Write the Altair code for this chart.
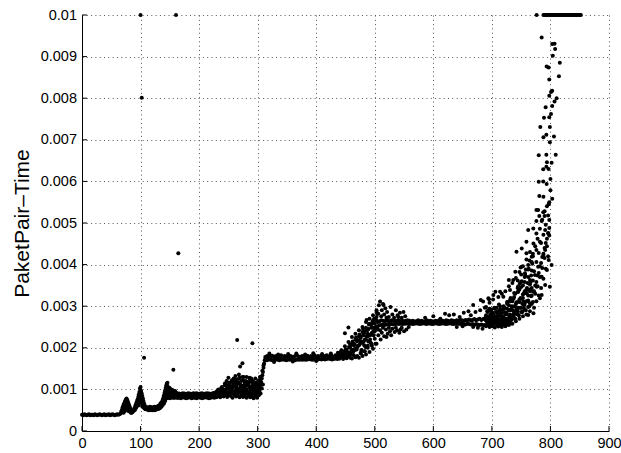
import altair as alt
import pandas as pd

# ---------------- axis ticks ----------------
X_TICKS = [0, 100, 200, 300, 400, 500, 600, 700, 800, 900]
Y_TICKS = [0, 0.001, 0.002, 0.003, 0.004, 0.005, 0.006, 0.007, 0.008, 0.009, 0.01]

# ---------------- data (y values in milliseconds) ----------------
A_X = [0,2,4,6,8,10,12,14,16,18,20,22,24,26,28,30,32,34,36,38,40,42,44,46,48,50,52,54,56,58,60,62,64]
A_Y = [0.39,0.38,0.40,0.39,0.38,0.39,0.40,0.38,0.39,0.39,0.38,0.40,0.39,0.38,0.39,0.40,0.39,0.38,0.39,0.40,0.38,0.39,0.39,0.40,0.38,0.39,0.40,0.39,0.38,0.39,0.40,0.39,0.40]

HUMP1 = [(66,0.42),(67,0.46),(68,0.50),(69,0.55),(70,0.59),(71,0.63),(72,0.66),(73,0.70),(74,0.73),(75,0.76),(76,0.78),(77,0.75),(78,0.72),(79,0.68),(80,0.64),(81,0.60),(82,0.56),(83,0.52),(84,0.48),(85,0.46),(86,0.45),(87,0.47),(88,0.50),
         (70,0.45),(72,0.50),(73,0.55),(74,0.58),(75,0.62),(76,0.64),(77,0.60),(78,0.57),(79,0.53),(80,0.50),(81,0.48),(82,0.46),(84,0.43),
         (69,0.48),(71,0.52),(72,0.58),(73,0.62),(74,0.66),(75,0.70),(76,0.72),(77,0.68),(78,0.64),(79,0.60),(80,0.56),(81,0.53),
         (83,0.47),(75,0.54),(77,0.52),(79,0.48),(71,0.44),(73,0.48)]
HUMP2 = [(89,0.53),(90,0.56),(91,0.60),(92,0.64),(93,0.68),(94,0.72),(95,0.76),(96,0.82),(97,0.88),(98,0.94),(99,1.02),(100,1.06),(101,0.96),(102,0.90),(103,0.84),(104,0.78),(105,0.72),(106,0.66),(107,0.62),(108,0.58),(109,0.55),(110,0.53),
         (92,0.55),(94,0.60),(95,0.63),(96,0.66),(97,0.70),(98,0.74),(99,0.80),(99,0.92),(100,0.78),(100,0.88),(101,0.76),(101,0.86),(102,0.70),(103,0.65),(104,0.60),(106,0.55),
         (90,0.50),(91,0.54),(93,0.58),(95,0.68),(96,0.72),(97,0.78),(98,0.84),(99,0.86),(100,0.96),(101,0.82),(102,0.80),
         (103,0.74),(104,0.68),(105,0.62),(107,0.56),(108,0.52),(97,0.62),(99,0.70),(101,0.68),(103,0.58),(94,0.66)]

C_X = [112,114,116,118,120,122,124,126,128,130,132,134,136,138]
C_Y1 = [0.51,0.50,0.50,0.51,0.50,0.51,0.50,0.51,0.52,0.53,0.54,0.56,0.59,0.63]
C_Y2 = [0.57,0.56,0.58,0.57,0.56,0.57,0.58,0.57,0.58,0.60,0.62,0.66,0.70,0.76]

HUMP3 = [(139,0.80),(140,0.86),(141,0.92),(142,0.98),(143,1.04),(144,1.10),(145,1.14),(146,1.08),(147,1.02),(148,1.00),(149,0.96),(150,1.02),(151,0.98),(152,0.94),(153,1.00),(154,0.96),(155,0.92),(156,0.95),(157,0.90),(158,0.93),(160,0.90),(162,0.88),(164,0.89),
         (140,0.66),(142,0.72),(144,0.78),(146,0.80),(148,0.80),(150,0.79),(152,0.80),(154,0.81),(156,0.80),(158,0.80),(160,0.81),(162,0.80),(164,0.80),
         (143,0.85),(145,0.92),(147,0.88),(149,0.86),(151,0.87),(153,0.86),(155,0.85),
         (141,0.74),(142,0.84),(143,0.92),(144,0.88),(144,0.98),(145,1.02),(146,0.94),(146,1.16),(147,0.84),(148,0.92),
         (149,1.04),(150,0.88),(151,0.92),(152,0.86),(153,0.92),(154,0.88),(155,0.98),(156,0.87),(157,0.84),(158,0.86),
         (159,0.96),(160,0.85),(161,0.92),(162,0.84),(163,0.90),(165,0.86)]

F_X = [166,169,172,175,178,181,184,187,190,193,196,199,202,205,208,211,214,217,220,223,226,229]
F_Y1 = [0.80,0.79,0.81,0.80,0.79,0.80,0.81,0.79,0.80,0.80,0.79,0.81,0.80,0.79,0.80,0.81,0.80,0.79,0.80,0.81,0.80,0.81]
F_Y2 = [0.90,0.89,0.91,0.90,0.89,0.91,0.90,0.89,0.91,0.90,0.91,0.89,0.90,0.91,0.89,0.90,0.91,0.90,0.89,0.91,0.92,0.91]
F_Y3 = [0.84,0.86,0.85,0.84,0.86,0.85,0.84,0.85,0.86,0.84,0.85,0.86,0.85,0.84,0.86,0.85,0.84,0.86,0.85,0.86,0.85,0.86]

G_X = [230,233,236,239,242,245,248,251,254,257,260,263,266,269,272,275,278,281,284,287,290,293,296,299,302]
G_Y1 = [0.82,0.86,0.81,0.85,0.83,0.88,0.82,0.86,0.84,0.80,0.87,0.83,0.85,0.81,0.86,0.82,0.84,0.80,0.85,0.81,0.83,0.79,0.84,0.80,0.86]
G_Y2 = [0.90,0.86,0.95,0.90,0.98,0.92,1.02,0.94,0.98,1.05,0.93,1.08,0.96,1.02,0.94,1.06,0.92,1.00,0.90,1.04,0.91,0.97,0.89,1.02,1.08]
G_Y3 = [0.95,1.00,0.92,1.06,1.00,1.12,1.04,1.16,1.08,1.20,1.12,1.24,1.14,1.28,1.10,1.22,1.16,1.30,1.12,1.24,1.18,1.12,1.26,1.16,1.22]
G_Y4 = [0.87,0.93,0.89,0.97,0.94,1.00,0.91,1.08,1.02,0.96,1.14,1.00,1.18,0.92,1.20,0.98,1.10,0.94,1.16,0.96,1.08,1.04,0.98,0.94,1.14]
G_EXTRA = [(250,1.28),(256,1.06),(262,1.32),(268,1.36),(276,1.30),(283,1.18),(289,1.26),(297,1.04),(238,0.96),(244,1.10),
           (259,1.12),(271,1.06),(280,1.08),(286,1.04),(294,1.02),(300,1.08),(253,0.92),(265,0.92),(277,0.90),(289,0.88),
           (231,0.86),(234,0.92),(237,0.87),(240,0.95),(243,0.89),(246,0.99),(249,0.90),(252,1.03),(255,0.92),(258,1.06),
           (261,0.93),(264,1.08),(267,0.93),(270,1.12),(273,0.92),(276,1.06),(279,0.90),(282,1.10),(285,0.89),(288,1.06),
           (291,0.88),(294,1.14),(297,0.87),(300,1.18),(301,0.88),
           (232,0.98),(235,0.84),(238,1.04),(241,0.88),(244,1.14),(247,0.86),(250,1.10),(253,1.00),(256,1.22),(259,0.90),
           (262,1.18),(265,1.02),(268,1.26),(271,0.96),(274,1.30),(277,1.04),(280,1.20),(283,0.94),(286,1.28),(289,1.00),
           (292,1.20),(295,0.96),(298,1.10),(301,1.02),(304,1.30),(247,1.20),(253,1.16),(259,1.26),(263,0.98),(267,1.16),
           (273,1.08),(279,1.14),(285,1.16),(291,1.06),(297,1.16)]

JUMP = [(303,0.95),(304,1.02),(305,1.10),(306,1.18),(307,1.26),(308,1.34),(309,1.42),(310,1.52),(311,1.62),(312,1.70),
        (304,1.20),(306,1.30),(308,1.45),(310,1.58),(303,1.12),(305,0.90),(307,1.02),(309,1.12)]

I_X = [313,316,319,322,325,328,331,334,337,340,343,346,349,352,355,358,361,364,367,370,373,376,379,382,385,388,391,394,397,400,403,406,409,412,415,418,421,424,427,430,433,436,439]
I_Y1 = [1.71,1.70,1.72,1.71,1.70,1.72,1.71,1.72,1.70,1.71,1.72,1.71,1.70,1.72,1.71,1.72,1.71,1.70,1.72,1.71,1.72,1.71,1.72,1.71,1.72,1.73,1.72,1.71,1.72,1.73,1.72,1.73,1.72,1.73,1.72,1.73,1.74,1.73,1.72,1.73,1.74,1.73,1.74]
I_Y2 = [1.78,1.80,1.77,1.79,1.81,1.78,1.80,1.77,1.79,1.82,1.78,1.80,1.79,1.77,1.81,1.79,1.78,1.80,1.82,1.79,1.78,1.80,1.77,1.79,1.81,1.78,1.80,1.79,1.82,1.78,1.80,1.79,1.81,1.78,1.80,1.82,1.79,1.81,1.80,1.78,1.82,1.80,1.81]
I_EXTRA = [(320,1.86),(335,1.84),(352,1.85),(366,1.86),(381,1.84),(395,1.87),(410,1.85),(425,1.86),(437,1.88),(328,1.66),(360,1.67),(400,1.68)]

J_X = [440,443,446,449,452,455,458,461,464,467,470,473,476,479,482,485,488,491,494,497,500,503]
J_Y1 = [1.74,1.78,1.73,1.77,1.75,1.80,1.76,1.74,1.82,1.77,1.80,1.76,1.86,1.80,1.92,1.84,2.00,1.90,2.10,1.98,2.22,2.10]
J_Y2 = [1.82,1.86,1.90,1.84,1.96,1.88,2.02,1.94,2.10,1.98,2.16,2.06,2.24,2.12,2.36,2.20,2.44,2.30,2.56,2.38,2.62,2.48]
J_Y3 = [1.88,1.94,1.84,2.04,1.92,2.14,2.00,2.26,2.06,2.34,2.18,2.42,2.28,2.50,2.40,2.62,2.34,2.70,2.48,2.78,2.58,2.86]
J_EXTRA = [(449,2.35),(455,2.49),(486,2.67),(503,2.90),(509,3.11),(515,3.03),(462,2.15),(466,1.95),(472,2.05),(477,1.95),
           (481,2.15),(484,2.02),(489,2.15),(492,2.30),(495,2.05),(498,2.40),(501,2.10),(444,1.92),(458,2.08),(468,2.25),
           (474,2.32),(480,2.45),(487,2.42),(490,2.56),(496,2.62),(499,2.70),(502,2.50),(504,2.82),
           (441,1.77),(445,1.79),(448,1.81),(451,1.83),(454,1.86),(457,1.88),(460,1.92),(463,1.90),(466,2.08),(469,1.96),
           (472,2.18),(475,2.10),(478,2.14),(481,2.30),(483,2.20),(486,2.28),(489,2.45),(492,2.20),(495,2.36),(498,2.30),
           (501,2.46),(503,2.66),(476,1.88),(483,1.92),(488,2.05),(493,2.12),(497,2.48),(500,2.68),
           (442,1.84),(447,1.88),(450,1.96),(453,1.80),(456,2.02),(459,1.84),(461,2.10),(464,1.96),(467,2.20),(470,2.02),
           (473,2.28),(476,2.16),(479,2.38),(482,2.06),(485,2.48),(488,2.28),(491,2.58),(494,2.32),(497,2.66),(500,2.40),
           (503,2.74),(505,2.44)]

K_X = [505,508,511,514,517,520,523,526,529,532,535,538,541,544,547,550,553,556,559]
K_Y1 = [2.52,2.54,2.55,2.56,2.55,2.56,2.57,2.56,2.57,2.56,2.57,2.58,2.57,2.58,2.57,2.58,2.58,2.59,2.58]
K_Y2 = [2.62,2.64,2.66,2.65,2.64,2.66,2.65,2.64,2.66,2.65,2.64,2.65,2.66,2.64,2.65,2.64,2.65,2.66,2.65]
K_EXTRA = [(507,3.02),(512,2.90),(514,3.05),(516,2.80),(518,2.95),(521,2.86),(524,2.74),(527,2.98),(530,2.80),(533,2.72),
           (536,2.90),(539,2.78),(543,2.84),(546,2.72),(549,2.86),(552,2.76),(506,2.82),(511,2.76),(520,2.72),(540,2.74),
           (506,2.30),(509,2.42),(512,2.36),(516,2.28),(519,2.44),(522,2.34),(526,2.40),(530,2.46),(534,2.38),(538,2.42),
           (542,2.36),(546,2.48),(550,2.40),(554,2.44),(558,2.50),(510,2.20),(514,2.48),(520,2.26),(524,2.48),(528,2.30),
           (536,2.48),(544,2.44)]

L_X = [562,565,568,571,574,577,580,583,586,589,592,595,598,601,604,607,610,613,616,619,622,625,628,631,634,637,640,643,646,649,652,655,658,661,664,667,670,673,676,679,682,685,688]
L_Y1 = [2.58,2.57,2.58,2.59,2.58,2.57,2.58,2.59,2.58,2.57,2.59,2.58,2.57,2.58,2.59,2.58,2.57,2.58,2.59,2.58,2.57,2.58,2.59,2.58,2.57,2.58,2.59,2.58,2.57,2.58,2.57,2.56,2.58,2.57,2.56,2.57,2.55,2.57,2.56,2.55,2.56,2.54,2.55]
L_Y2 = [2.64,2.65,2.63,2.64,2.66,2.64,2.65,2.63,2.64,2.66,2.64,2.65,2.64,2.63,2.65,2.64,2.66,2.64,2.65,2.64,2.66,2.65,2.64,2.66,2.65,2.64,2.66,2.65,2.67,2.66,2.65,2.67,2.66,2.68,2.66,2.67,2.69,2.66,2.68,2.70,2.67,2.69,2.71]
L_EXTRA = [(586,2.72),(600,2.76),(612,2.70),(620,2.82),(627,2.78),(635,2.80),(645,2.74),(652,2.84),(660,2.88),(664,2.78),
           (672,2.86),(680,2.90),(688,2.96),(668,2.50),(676,2.48),(684,2.46),(650,2.52),(640,2.50)]

M_X = [690,693,696,699,702,705,708,711,714,717,720,723,726,729,732,735,738,741,744,747,750,753,756,759,762,765,768]
M_Y1 = [2.52,2.58,2.50,2.56,2.60,2.49,2.55,2.51,2.59,2.50,2.56,2.52,2.61,2.55,2.66,2.58,2.72,2.64,2.80,2.70,2.86,2.76,2.92,2.80,2.98,2.88,3.05]
M_Y2 = [2.66,2.60,2.72,2.64,2.58,2.74,2.62,2.70,2.60,2.76,2.66,2.80,2.64,2.78,2.72,2.90,2.80,2.98,2.88,3.10,2.96,3.20,3.06,3.32,3.14,3.40,3.26]
M_Y3 = [2.78,2.86,2.70,2.92,2.80,2.68,2.96,2.78,2.88,2.72,3.00,2.84,3.06,2.90,3.12,2.98,3.22,3.06,3.34,3.16,3.46,3.28,3.58,3.40,3.70,3.52,3.86]
M_Y4 = [2.98,2.74,3.08,2.88,3.16,2.94,2.84,3.22,3.00,3.30,2.92,3.36,3.10,3.48,3.20,3.56,3.32,3.68,3.44,3.82,3.58,3.96,3.70,4.12,3.88,4.30,4.06]
M_FILL = [(691,2.64),(692,2.55),(694,2.90),(695,2.68),(697,2.57),(698,2.80),(700,2.70),(701,2.52),(703,2.62),(704,2.96),
          (706,2.58),(707,2.76),(709,2.68),(710,2.54),(712,3.04),(713,2.64),(715,2.82),(716,2.56),(718,2.72),(719,2.94),
          (721,2.62),(722,2.84),(724,2.54),(725,2.70),(727,3.10),(728,2.66),(730,2.90),(731,2.58),(733,2.76),(734,3.00),
          (736,2.72),(737,3.18),(739,2.86),(740,2.70),(742,3.08),(743,2.92),(745,3.48),(746,2.78),(748,3.16),(749,2.96),
          (751,3.60),(752,2.86),(754,3.30),(755,3.02),(757,3.74),(758,2.90),(760,3.44),(761,3.12),(763,3.90),(764,3.00),
          (766,3.58),(767,3.24),(769,4.02),(770,3.36),
          (690,2.74),(692,2.88),(693,2.68),(695,2.76),(696,2.94),(698,2.62),(699,2.72),(701,2.84),(702,2.66),(704,2.74),
          (705,2.60),(707,2.86),(708,2.70),(710,2.88),(711,2.62),(713,2.78),(714,2.92),(716,2.68),(717,2.84),(719,2.60),
          (720,2.74),(722,2.96),(723,2.66),(725,2.84),(726,2.94),(728,2.70),(729,3.02),(731,2.80),(732,2.92),(734,2.68),
          (735,3.12),(737,2.82),(738,3.00),(740,3.30),(741,2.90),(743,3.10),(744,3.62),(746,2.96),(747,3.40),(749,3.20),
          (750,3.76),(752,3.06),(753,3.50),(755,2.94),(756,3.36),(758,3.88),(759,3.12),(761,3.56),(762,3.26),(764,4.10),
          (765,3.36),(767,3.74),(768,3.44),(770,4.26)]

N_X = [770,772,774,776,778,780,782,784,786,788,790,792,794,796,798]
N_Y1 = [3.10,2.96,3.30,3.12,3.48,3.26,3.70,3.44,3.92,3.66,4.16,3.90,4.44,4.20,4.70]
N_Y2 = [3.62,3.84,3.50,4.06,3.74,4.28,3.96,4.52,4.18,4.72,4.40,4.96,4.62,5.18,4.88]
N_Y3 = [4.20,3.36,4.44,3.58,4.62,3.80,4.86,4.04,5.08,4.26,5.28,4.52,5.40,4.76,5.50]

RISE = [(762,4.83),(776,4.75),(791,4.83),(796.5,4.75),(759,4.55),(771,4.51),(782,4.55),(791,4.35),(776,4.35),(751,4.39),
        (742,4.31),(759,4.27),(768,4.19),(788,4.23),(797,4.11),(751,3.95),(762,3.99),(779,3.95),(794,3.87),(802,3.99),
        (756.5,3.79),(773.5,3.75),(785,3.71),(736.5,3.63),(748,3.55),(765,3.63),(776.5,3.47),(791,3.51),(731,3.39),(745,3.35),
        (759,3.31),(771,3.35),(785,3.27),(799,3.47),(714,3.35),(719.5,3.23),(702.5,3.27),(694,3.19),(731,3.15),(754,3.11),
        (765,3.07),(782,3.19),(668,3.03),(685,3.11),(762,2.79),(771,2.83),(740,3.83),(749,3.93),(729,3.63),(706,3.35),
        (681,3.15),(695,3.17)]

TOP_SCATTER = [(785,9.46),(803,9.30),(807,9.31),(808,9.18),(804,9.02),(816,8.85),(793.5,8.76),(797,8.74),(814.5,8.53),(798,8.45),
               (803,8.18),(801,8.15),(798,8.06),(810.6,8.00),(807,7.92),(803,7.81),(791.8,7.78),(801,7.62),(789,7.53),(798,7.54),
               (782.7,7.31),(799,7.31),(793,7.12),(788,7.06),(806,7.08),(799,6.94),(780,6.63),(793,6.64),(809,6.64),(794,6.46),
               (793,6.35),(802,6.45),(787.7,6.29),(796.8,6.30),(800,6.06),(780,5.99),(787.7,6.00),(793.5,5.94),(781,5.65),(788,5.63),
               (800,5.79),(803,5.58),(797,5.45),(776,5.31),(779,5.31),(787.7,5.26),(781,5.17),(790,5.17),(798,5.07),(776,5.05),
               (785,5.05),(770.7,4.87)]

CAP_X = [776.4,788,790,792,794,796,798,800,802,804,806,808,810,812,814,816,818,820,822,824,826,828,830,832,834,836,838,840,842,844,846,848,850,852]
CAP_Y = 10.0

OUTLIERS = [(100,10.0),(160.5,10.0),(102,8.01),(164.5,4.27),(106,1.76),(156,1.47),(265,2.19),(291,2.11),(274,1.63),(270,1.55)]

# ---------------- assemble ----------------
pts = []
def rows(xs, *ys):
    for yl in ys:
        pts.extend(zip(xs, yl))

rows(A_X, A_Y)
pts.extend(HUMP1); pts.extend(HUMP2)
rows(C_X, C_Y1, C_Y2)
pts.extend(HUMP3)
rows(F_X, F_Y1, F_Y2, F_Y3)
rows(G_X, G_Y1, G_Y2, G_Y3, G_Y4); pts.extend(G_EXTRA)
pts.extend(JUMP)
rows(I_X, I_Y1, I_Y2); pts.extend(I_EXTRA)
rows(J_X, J_Y1, J_Y2, J_Y3); pts.extend(J_EXTRA)
rows(K_X, K_Y1, K_Y2); pts.extend(K_EXTRA)
rows(L_X, L_Y1, L_Y2); pts.extend(L_EXTRA)
rows(M_X, M_Y1, M_Y2, M_Y3, M_Y4); pts.extend(M_FILL)
rows(N_X, N_Y1, N_Y2, N_Y3)
pts.extend(RISE); pts.extend(TOP_SCATTER)
pts.extend((x, CAP_Y) for x in CAP_X)
pts.extend(OUTLIERS)

df = pd.DataFrame(pts, columns=["x", "y_ms"])
df["y"] = df["y_ms"] / 1000.0

W, H = 527, 416
FONT = "Liberation Sans"
GRID_DASH = [1, 3.3]

xscale = alt.Scale(domain=[0, 900], nice=False, zero=False)
yscale = alt.Scale(domain=[0, 0.01], nice=False, zero=False)

x_axis = alt.Axis(values=X_TICKS, format="d", title=None, grid=True,
                  gridColor="#555", gridDash=GRID_DASH, gridWidth=1,
                  ticks=False, domainColor="black", domainWidth=1,
                  labelFont=FONT, labelFontSize=14.5, labelColor="black",
                  labelPadding=5, labelBaseline="top", labelFlush=False)
y_axis = alt.Axis(values=Y_TICKS, labelExpr="format(datum.value, '~g')",
                  title="PaketPair–Time", grid=True,
                  gridColor="#555", gridDash=GRID_DASH, gridWidth=1,
                  ticks=False, domainColor="black", domainWidth=1,
                  labelFont=FONT, labelFontSize=14.5, labelColor="black",
                  labelPadding=5.5, labelFlush=False,
                  titleFont=FONT, titleFontSize=21, titleFontWeight="normal",
                  titleColor="black", titleAngle=270, titleX=-54, titleY=208,
                  titleAlign="center", titleBaseline="alphabetic")

points = alt.Chart(df).mark_circle(size=16, color="black", opacity=1).encode(
    x=alt.X("x:Q", scale=xscale, axis=x_axis),
    y=alt.Y("y:Q", scale=yscale, axis=y_axis),
)

xt = alt.Chart(pd.DataFrame({"tx": X_TICKS})).mark_rule(color="black", strokeWidth=1).encode(
    x=alt.X("tx:Q", scale=xscale, axis=x_axis),
    y=alt.value(H), y2=alt.value(H - 5))

yt = alt.Chart(pd.DataFrame({"ty": Y_TICKS})).mark_rule(color="black", strokeWidth=1).encode(
    y=alt.Y("ty:Q", scale=yscale, axis=y_axis),
    x=alt.value(0), x2=alt.value(5))

chart = alt.layer(points, xt, yt).properties(
    width=W, height=H,
    autosize=alt.AutoSizeParams(type="none"),
    padding={"left": 82, "top": 15, "right": 12, "bottom": 22},
    background="white",
).configure_view(stroke="transparent")

chart.save("out.html", embed_options={"renderer": "svg", "actions": False})
